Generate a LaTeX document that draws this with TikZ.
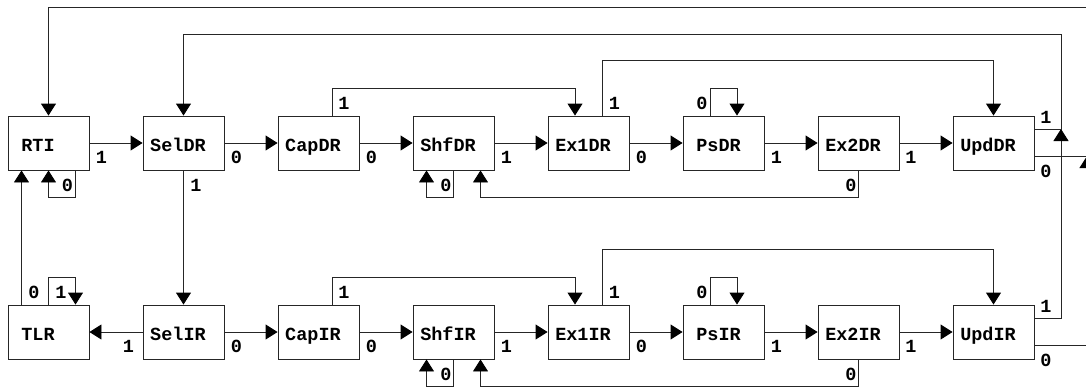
\documentclass[tikz,border=0pt]{standalone}
\usepackage{fontspec}
\setmonofont{Liberation Mono}
\usetikzlibrary{arrows.meta}
\begin{document}
\begin{tikzpicture}[x=1pt,y=-1pt,
  box/.style={draw=black!85, line width=0.9pt, minimum width=81pt, minimum height=54pt,
    inner sep=0pt, text height=16pt, text depth=0pt,
    font=\ttfamily\bfseries\fontsize{18.5}{20}\selectfont},
  arr/.style={draw=black!85, line width=0.9pt, -{Triangle[length=12pt,width=15pt,fill=black,color=black]}},
  ln/.style={draw=black!85, line width=0.9pt},
  lab/.style={anchor=base, inner sep=0pt, font=\ttfamily\bfseries\fontsize{18.5}{20}\selectfont}]
\useasboundingbox (0,0) rectangle (1086,388);
% top row
\node[box] (RTI)   at (48.5,143)  {RTI\hspace*{21pt}};
\node[box] (SelDR) at (183.5,143) {SelDR\hspace*{11pt}};
\node[box] (CapDR) at (318.5,143) {CapDR\hspace*{11pt}};
\node[box] (ShfDR) at (453.5,143) {ShfDR\hspace*{11pt}};
\node[box] (Ex1DR) at (588.5,143) {Ex1DR\hspace*{11pt}};
\node[box] (PsDR)  at (723.5,143) {PsDR\hspace*{10pt}};
\node[box] (Ex2DR) at (858.5,143) {Ex2DR\hspace*{11pt}};
\node[box] (UpdDR) at (993.5,143) {UpdDR\hspace*{11pt}};
% bottom row
\node[box] (TLR)   at (48.5,332)  {TLR\hspace*{21pt}};
\node[box] (SelIR) at (183.5,332) {SelIR\hspace*{11pt}};
\node[box] (CapIR) at (318.5,332) {CapIR\hspace*{11pt}};
\node[box] (ShfIR) at (453.5,332) {ShfIR\hspace*{11pt}};
\node[box] (Ex1IR) at (588.5,332) {Ex1IR\hspace*{11pt}};
\node[box] (PsIR)  at (723.5,332) {PsIR\hspace*{10pt}};
\node[box] (Ex2IR) at (858.5,332) {Ex2IR\hspace*{11pt}};
\node[box] (UpdIR) at (993.5,332) {UpdIR\hspace*{11pt}};
% merge points
\coordinate (m1) at (1061,129);
\coordinate (m2) at (1087,156);
\coordinate (t1) at (1061,34);
\coordinate (t2) at (1087,7);
% top row connectors
\draw[arr] (RTI) -- (SelDR);
\draw[arr] (SelDR) -- (CapDR);
\draw[arr] (CapDR) -- (ShfDR);
\draw[arr] (ShfDR) -- (Ex1DR);
\draw[arr] (Ex1DR) -- (PsDR);
\draw[arr] (PsDR) -- (Ex2DR);
\draw[arr] (Ex2DR) -- (UpdDR);
\draw[arr] ([xshift=27pt]RTI.south) -- ++(0,-27pt) -| (RTI.south);
\draw[arr] ([xshift=13.5pt]CapDR.north) -- ++(0,27pt) -| ([xshift=-13.5pt]Ex1DR.north);
\draw[arr] ([xshift=13.5pt]Ex1DR.north) -- ++(0,55pt) -| (UpdDR.north);
\draw[arr] ([xshift=-13.5pt]PsDR.north) -- ++(0,27pt) -| ([xshift=13.5pt]PsDR.north);
\draw[arr] (ShfDR.south) -- ++(0,-27pt) -| ([xshift=-27pt]ShfDR.south);
\draw[arr] (Ex2DR.south) -- ++(0,-27pt) -| ([xshift=27pt]ShfDR.south);
\draw[arr] (SelDR) -- (SelIR);
% bottom row connectors
\draw[arr] (SelIR) -- (TLR);
\draw[arr] (SelIR) -- (CapIR);
\draw[arr] (CapIR) -- (ShfIR);
\draw[arr] (ShfIR) -- (Ex1IR);
\draw[arr] (Ex1IR) -- (PsIR);
\draw[arr] (PsIR) -- (Ex2IR);
\draw[arr] (Ex2IR) -- (UpdIR);
\draw[arr] ([xshift=-27pt]TLR.north) -- ([xshift=-27pt]RTI.south);
\draw[arr] (TLR.north) -- ++(0,27pt) -| ([xshift=27pt]TLR.north);
\draw[arr] ([xshift=13.5pt]CapIR.north) -- ++(0,27pt) -| ([xshift=-13.5pt]Ex1IR.north);
\draw[arr] ([xshift=13.5pt]Ex1IR.north) -- ++(0,55pt) -| (UpdIR.north);
\draw[arr] ([xshift=-13.5pt]PsIR.north) -- ++(0,27pt) -| ([xshift=13.5pt]PsIR.north);
\draw[arr] (ShfIR.south) -- ++(0,-27pt) -| ([xshift=-27pt]ShfIR.south);
\draw[arr] (Ex2IR.south) -- ++(0,-27pt) -| ([xshift=27pt]ShfIR.south);
% right side feedback
\draw[arr] ([yshift=14pt]UpdIR.east) -| (m1);
\draw[arr] ([yshift=14pt]UpdDR.east) -- (m1) -- (t1) -| (SelDR.north);
\draw[arr] ([yshift=-13.5pt]UpdIR.east) -| (m2);
\draw[arr] ([yshift=-13pt]UpdDR.east) -- (m2) -- (t2) -| (RTI.north);
% labels top row
\node[lab] (a1) at (101.5,163) {1};
\node[lab] (a2) at (236.5,163) {0};
\node[lab] (a3) at (371.5,163) {0};
\node[lab] (a4) at (506.5,163) {1};
\node[lab] (a5) at (641.5,163) {0};
\node[lab] (a6) at (776.5,163) {1};
\node[lab] (a7) at (911,163) {1};
\node[lab] (a8) at (67.5,191) {0};
\node[lab] (a9) at (196,191) {1};
\node[lab] (a10) at (446,191) {0};
\node[lab] (a11) at (851,191) {0};
\node[lab] (a12) at (344,109) {1};
\node[lab] (a13) at (614.5,109) {1};
\node[lab] (a14) at (702,109) {0};
\node[lab] (a15) at (1046,123) {1};
\node[lab] (a16) at (1046,177) {0};
% labels bottom row
\node[lab] (b1) at (128.5,352) {1};
\node[lab] (b2) at (236.5,352) {0};
\node[lab] (b3) at (371.5,352) {0};
\node[lab] (b4) at (506.5,352) {1};
\node[lab] (b5) at (641.5,352) {0};
\node[lab] (b6) at (776.5,352) {1};
\node[lab] (b7) at (911,352) {1};
\node[lab] (b8) at (34,298) {0};
\node[lab] (b9) at (61,298) {1};
\node[lab] (b10) at (446,380) {0};
\node[lab] (b11) at (851,380) {0};
\node[lab] (b12) at (344,298) {1};
\node[lab] (b13) at (614.5,298) {1};
\node[lab] (b14) at (702,298) {0};
\node[lab] (b15) at (1046,312) {1};
\node[lab] (b16) at (1046,366) {0};
\end{tikzpicture}
\end{document}
